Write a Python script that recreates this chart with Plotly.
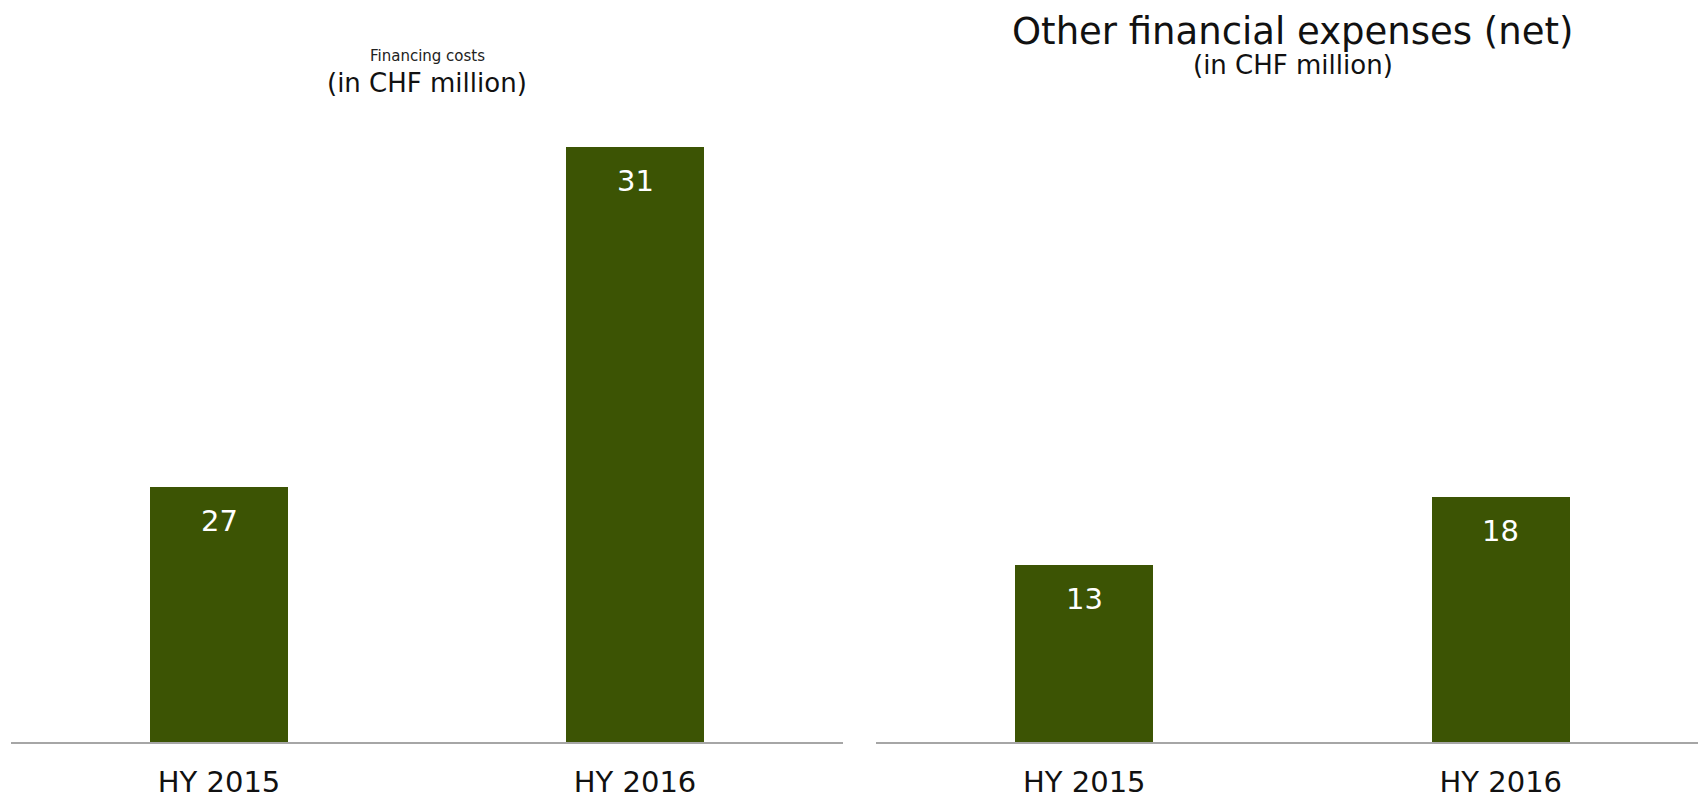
import plotly.graph_objects as go

# Chart data
categories = ["HY 2015", "HY 2016"]
financing_costs = [27, 31]
other_fin_expenses = [13, 18]

W, H = 1698, 799
BAR_COLOR = "#3C5404"
AXIS_COLOR = "#A6A6A6"
FONT = "DejaVu Sans"

# Vertical layout (pixels from top): baseline and plot top
base_px, top_px = 742, 100
plot_h = base_px - top_px
y_dom = [(H - base_px) / H, (H - top_px) / H]

# Left panel starts at 24 (broken scale), right panel starts at 0
left_base, left_ppu = 24, 85.0
right_base, right_ppu = 0, 13.6
left_range = [left_base, left_base + plot_h / left_ppu]
right_range = [right_base, right_base + plot_h / right_ppu]

fig = go.Figure()
fig.add_trace(go.Bar(x=categories, y=financing_costs, marker_color=BAR_COLOR,
                     marker_line_width=0, width=0.332, xaxis="x", yaxis="y",
                     hoverinfo="skip", showlegend=False))
fig.add_trace(go.Bar(x=categories, y=other_fin_expenses, marker_color=BAR_COLOR,
                     marker_line_width=0, width=0.332, xaxis="x2", yaxis="y2",
                     hoverinfo="skip", showlegend=False))

annotations = []
# Value labels inside the bar tops
for xa, ya, vals in (("x", "y", financing_costs), ("x2", "y2", other_fin_expenses)):
    for c, v in zip(categories, vals):
        annotations.append(dict(x=c, y=v, xref=xa, yref=ya, text=str(v),
                                showarrow=False, xanchor="center", yanchor="middle", yshift=-34,
                                font=dict(family=FONT, size=29, color="white")))

# Panel titles
lx = (11 + 843) / 2 / W
rx = (876 + 1709) / 2 / W
annotations += [
    dict(x=lx, y=1 - 56 / H, xref="paper", yref="paper", text="Financing costs",
         showarrow=False, xanchor="center", yanchor="middle",
         font=dict(family=FONT, size=15, color="#222")),
    dict(x=lx, y=1 - 83 / H, xref="paper", yref="paper", text="(in CHF million)",
         showarrow=False, xanchor="center", yanchor="middle",
         font=dict(family=FONT, size=26, color="#111")),
    dict(x=rx, y=1 - 31 / H, xref="paper", yref="paper", text="Other financial expenses (net)",
         showarrow=False, xanchor="center", yanchor="middle",
         font=dict(family=FONT, size=37, color="#111")),
    dict(x=rx, y=1 - 65 / H, xref="paper", yref="paper", text="(in CHF million)",
         showarrow=False, xanchor="center", yanchor="middle",
         font=dict(family=FONT, size=26, color="#111")),
]

xcommon = dict(type="category", showline=True, linecolor=AXIS_COLOR, linewidth=2,
               showgrid=False, zeroline=False, ticks="outside", ticklen=13,
               tickcolor="rgba(0,0,0,0)", tickfont=dict(family=FONT, size=29, color="#111"),
               automargin=False, fixedrange=True)
ycommon = dict(visible=False, showgrid=False, zeroline=False, fixedrange=True, domain=y_dom)

fig.update_layout(
    width=W, height=H,
    margin=dict(l=0, r=0, t=0, b=0),
    paper_bgcolor="white", plot_bgcolor="white",
    xaxis=dict(domain=[11 / W, 843 / W], range=[-0.5, 1.5], anchor="y", **xcommon),
    xaxis2=dict(domain=[876 / W, 1.0], range=[-0.5, 1.5 - (1709 - W) / 416], anchor="y2", **xcommon),
    yaxis=dict(range=left_range, anchor="x", **ycommon),
    yaxis2=dict(range=right_range, anchor="x2", **ycommon),
    annotations=annotations,
    bargap=0,
)

fig.write_html("out.html", config={"displayModeBar": False})
